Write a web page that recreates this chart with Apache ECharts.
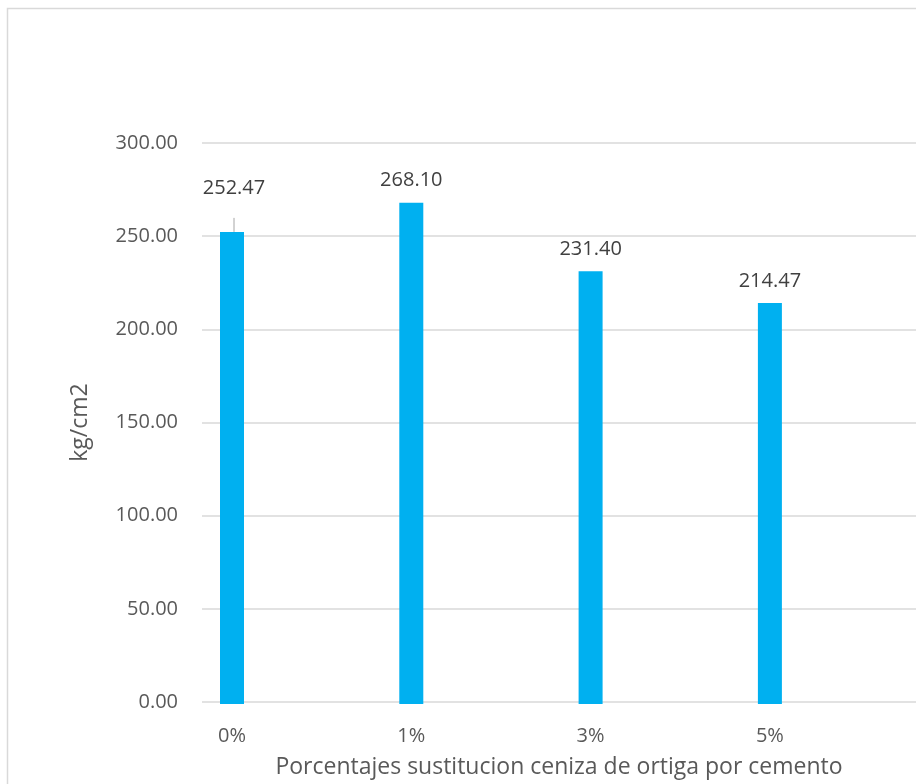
<!DOCTYPE html>
<html>
<head>
<meta charset="utf-8">
<script src="https://cdn.jsdelivr.net/npm/echarts@6/dist/echarts.min.js"></script>
<style>
  html, body { margin: 0; padding: 0; background: #ffffff; }
  #chart { width: 916px; height: 784px; }
</style>
</head>
<body>
<div id="chart"></div>
<script>
// Compressive strength by nettle-ash replacement percentage
const categories = ['0%', '1%', '3%', '5%'];
const strengthValues = [252.47, 268.10, 231.40, 214.47];
const yTicks = [0, 50, 100, 150, 200, 250, 300];

const yAxisTitle = 'kg/cm2';
const xAxisTitle = 'Porcentajes sustitucion ceniza de ortiga por cemento';

const FONT = '"Open Sans", "Noto Sans", sans-serif';

const chart = echarts.init(document.getElementById('chart'));

chart.setOption({
  animation: false,
  backgroundColor: '#ffffff',
  graphic: [{
    type: 'rect',
    shape: { x: 7.5, y: 8.5, width: 1200, height: 1200 },
    style: { fill: 'none', stroke: '#d9d9d9', lineWidth: 1.5 },
    silent: true
  }],
  grid: [
    { left: 202, right: 0, top: 143, bottom: 80 },
    { left: 142.35, width: 717.2, top: 143, bottom: 80 }
  ],
  xAxis: [
    {
      gridIndex: 0,
      type: 'value',
      min: 0, max: 1,
      axisLine: { show: false }, axisTick: { show: false },
      axisLabel: { show: false }, splitLine: { show: false },
      name: xAxisTitle,
      nameLocation: 'middle',
      nameGap: 54,
      nameTextStyle: { fontFamily: FONT, fontSize: 23, color: '#595959' }
    },
    {
      gridIndex: 1,
      type: 'category',
      data: categories,
      axisLine: { show: false }, axisTick: { show: false },
      axisLabel: { fontFamily: FONT, fontSize: 20, color: '#595959', margin: 22 }
    }
  ],
  yAxis: [
    {
      gridIndex: 0,
      type: 'value',
      min: yTicks[0], max: yTicks[yTicks.length - 1], interval: yTicks[1] - yTicks[0],
      axisLine: { show: false }, axisTick: { show: false },
      axisLabel: {
        fontFamily: FONT, fontSize: 20, color: '#595959', margin: 24,
        formatter: v => v.toFixed(2)
      },
      splitLine: { lineStyle: { color: '#d9d9d9', width: 1.5 } },
      name: yAxisTitle,
      nameLocation: 'middle',
      nameGap: 110,
      nameTextStyle: { fontFamily: FONT, fontSize: 23, color: '#595959' }
    },
    {
      gridIndex: 1,
      type: 'value',
      min: yTicks[0], max: yTicks[yTicks.length - 1],
      show: false
    }
  ],
  series: [{
    type: 'bar',
    xAxisIndex: 1,
    yAxisIndex: 1,
    barWidth: 24,
    itemStyle: { color: '#00b0f0' },
    label: {
      show: true,
      position: 'top',
      distance: 12,
      fontFamily: FONT, fontSize: 20, color: '#404040',
      formatter: p => p.value.toFixed(2)
    },
    labelLayout: p => (p.dataIndex === 0 ? { dx: 2, dy: -2 } : {}),
    data: strengthValues.map((v, i) => i === 0
      ? {
          value: v,
          // first label sits higher, with a short leader line down to its bar
          label: {
            formatter: p => '{v|' + p.value.toFixed(2) + '}\n{g|}',
            rich: {
              v: { fontFamily: FONT, fontSize: 20, color: '#404040' },
              g: { height: 20 }
            }
          },
          labelLine: { show: true, lineStyle: { color: '#a6a6a6', width: 1 } }
        }
      : v)
  }]
});
</script>
</body>
</html>
